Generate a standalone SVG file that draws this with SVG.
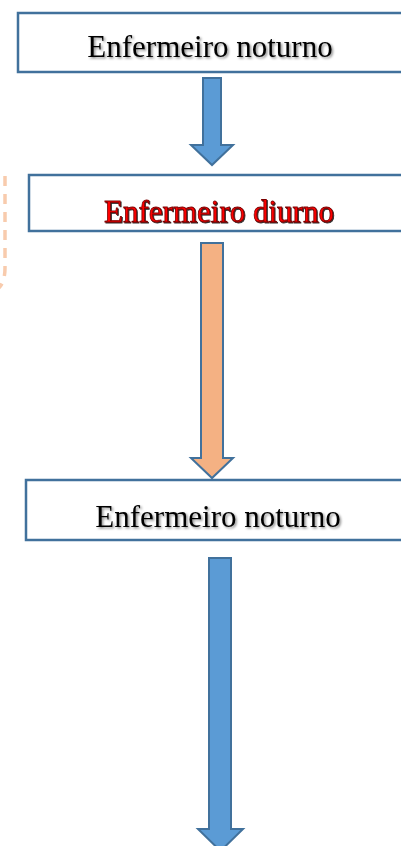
<svg xmlns="http://www.w3.org/2000/svg" width="401" height="846" viewBox="0 0 401 846">
<defs>
<filter id="sh" x="-10%" y="-30%" width="120%" height="160%">
<feDropShadow dx="1.5" dy="1.5" stdDeviation="1" flood-color="#000" flood-opacity="0.45"/>
</filter>
<filter id="shr" x="-10%" y="-30%" width="120%" height="160%">
<feDropShadow dx="1" dy="1" stdDeviation="0.6" flood-color="#000" flood-opacity="0.85"/>
</filter>
<style>
.box{fill:#fff;stroke:#41719C;stroke-width:2.5}
.t{font-family:"Liberation Serif","Times New Roman",serif;font-size:31px;text-anchor:middle;fill:#000;filter:url(#sh)}
.red{fill:#FF0000;filter:url(#shr)}
.blue{fill:#5B9BD5;stroke:#41719C;stroke-width:2;stroke-linejoin:miter}
.orange{fill:#F4B183;stroke:#41719C;stroke-width:2;stroke-linejoin:miter}
</style>
</defs>
<rect width="401" height="846" fill="#fff"/>
<g id="decor">
<path d="M5 176 V268 Q5 288 -8 292" fill="none" stroke="#F8CBAD" stroke-width="3.5" stroke-dasharray="10 8"/>
</g>
<g id="node1">
<rect class="box" x="18" y="13" width="400" height="59"/>
<text class="t" x="210" y="57">Enfermeiro noturno</text>
</g>
<g id="node2">
<rect class="box" x="29" y="175" width="400" height="56"/>
<text class="t red" x="219" y="222" stroke="#7a0000" stroke-width="0.8">Enfermeiro diurno</text>
</g>
<g id="node3">
<rect class="box" x="26" y="480" width="400" height="60"/>
<text class="t" x="218" y="527">Enfermeiro noturno</text>
</g>
<g id="connectors">
<polygon class="blue" points="203,78 221,78 221,145 233,145 212,165 191,145 203,145"/>
<polygon class="orange" points="201,243 223,243 223,458 233,458 212,478 191,458 201,458"/>
<polygon class="blue" points="209,558 231,558 231,829 243,829 220.5,851 198,829 209,829"/>
</g>
</svg>
